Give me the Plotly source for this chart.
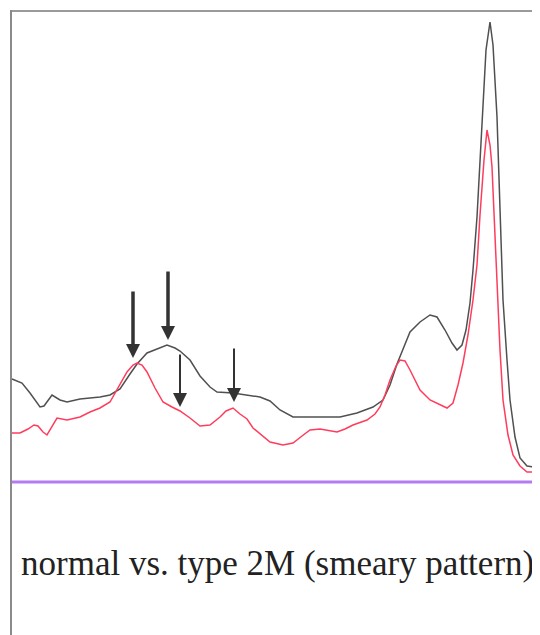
import plotly.graph_objects as go

# Densitometry traces (x = migration position, y = intensity above baseline)
normal_x = [12, 22, 30, 40, 44, 52, 60, 67, 80, 100, 110, 120, 130, 137, 147, 158, 167, 175, 180, 190,
            200, 210, 217, 233, 245, 260, 270, 280, 293, 310, 340, 357, 373, 383, 390, 397, 404, 410,
            420, 430, 437, 445, 452, 457, 462, 466, 470, 473, 477, 482, 486, 490, 493, 497, 500, 503,
            507, 510, 515, 520, 527, 533, 540]
normal_y = [103, 99, 89, 75, 76, 87, 82, 80, 83, 85, 87, 93, 108, 118, 129, 133, 137, 134, 131, 122,
            106, 95, 90, 89, 87, 85, 81, 72, 65, 65, 65, 69, 75, 82, 97, 118, 136, 150,
            160, 167, 165, 152, 139, 132, 137, 152, 179, 212, 265, 365, 432, 460, 437, 365, 265, 182,
            122, 82, 45, 24, 16, 15, 14]

type2m_x = [12, 20, 28, 34, 38, 43, 47, 52, 57, 67, 80, 90, 100, 110, 118, 127, 133, 137, 142, 147,
            155, 163, 172, 180, 190, 200, 210, 220, 226, 233, 240, 247, 253, 260, 270, 283, 293, 302,
            310, 320, 327, 337, 345, 353, 367, 375, 380, 385, 390, 396, 400, 405, 410, 420, 430, 440,
            447, 453, 458, 463, 468, 473, 477, 480, 484, 487, 490, 492, 495, 498, 500, 503, 508, 513,
            520, 527, 540]
type2m_y = [49, 49, 53, 57, 56, 50, 47, 56, 64, 62, 65, 70, 74, 80, 94, 110, 117, 119, 117, 110,
            94, 80, 75, 71, 64, 56, 57, 65, 71, 74, 68, 63, 54, 48, 40, 37, 39, 46,
            52, 53, 52, 50, 53, 57, 62, 68, 75, 87, 102, 116, 122, 121, 112, 92, 82, 77,
            74, 79, 97, 119, 147, 182, 217, 267, 322, 352, 337, 315, 247, 182, 132, 82, 47, 27,
            16, 10, 10]

caption = "normal vs. type 2M (smeary pattern)"

# Arrow markers: (x, tip y, tail y, line width)
arrows = [(133, 124, 192, 3.5), (168, 142, 212, 3.5), (180, 75, 129, 2), (234, 80, 135, 2)]

fig = go.Figure()
fig.add_trace(go.Scatter(x=normal_x, y=normal_y, mode="lines",
                         line=dict(color="#505050", width=1.5), name="normal"))
fig.add_trace(go.Scatter(x=type2m_x, y=type2m_y, mode="lines",
                         line=dict(color="#ff3c5c", width=1.5), name="type 2M"))

# frame and baseline
fig.add_shape(type="line", x0=10, x1=560, y0=471, y1=471, line=dict(color="#9a9a9a", width=2))
fig.add_shape(type="line", x0=11, x1=11, y0=472, y1=-170, line=dict(color="#8a8a8a", width=2))
fig.add_shape(type="line", x0=12, x1=560, y0=0, y1=0, line=dict(color="#b47cf2", width=3))

for ax_, tip, tail, w in arrows:
    fig.add_annotation(x=ax_, y=tip, ax=ax_, ay=tail, xref="x", yref="y", axref="x", ayref="y",
                       showarrow=True, arrowhead=2, arrowwidth=w,
                       arrowsize=2.8 / w, arrowcolor="#333333", text="", standoff=0)

fig.add_annotation(x=19, y=-81, xref="x", yref="y", text=caption, showarrow=False,
                   xanchor="left", yanchor="middle",
                   font=dict(family="Liberation Serif", size=35, color="#222222"))

# page body has an 8px offset; size and ranges compensate so marks land where the reference has them
fig.update_layout(width=532, height=627, margin=dict(l=0, r=0, t=0, b=0),
                  plot_bgcolor="white", paper_bgcolor="white", showlegend=False,
                  xaxis=dict(range=[8, 540], visible=False, fixedrange=True),
                  yaxis=dict(range=[-153, 474], visible=False, fixedrange=True))
fig.write_html("out.html")
